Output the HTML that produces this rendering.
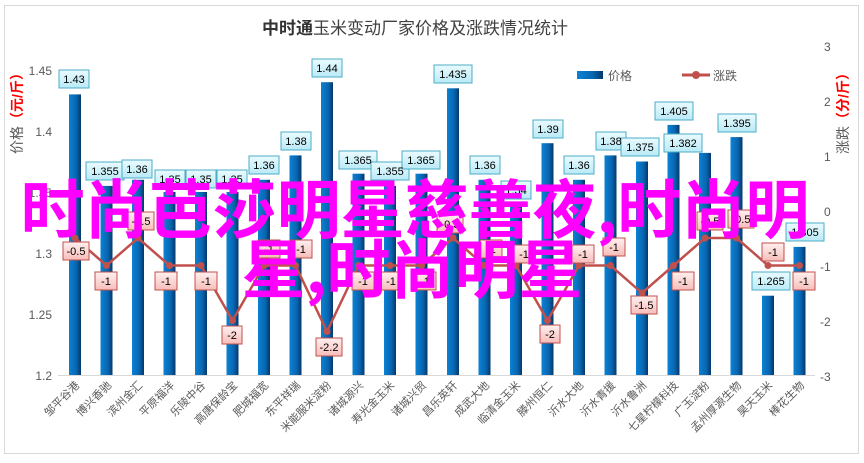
<!DOCTYPE html>
<html><head><meta charset="utf-8"><style>
body{margin:0;background:#fff}
svg text{font-family:"Liberation Sans","Noto Sans CJK SC",sans-serif}
</style></head><body>
<svg width="864" height="458" viewBox="0 0 864 458" xmlns="http://www.w3.org/2000/svg">
<defs>
<linearGradient id="bg" x1="0" x2="1" y1="0" y2="0"><stop offset="0" stop-color="#0b82d4"/><stop offset="0.6" stop-color="#0866b0"/><stop offset="1" stop-color="#05386a"/></linearGradient>
<linearGradient id="lb" x1="0" x2="0" y1="0" y2="1"><stop offset="0" stop-color="#eafbff"/><stop offset="1" stop-color="#b9eaf6"/></linearGradient>
<linearGradient id="rb" x1="0" x2="0" y1="0" y2="1"><stop offset="0" stop-color="#fff0ef"/><stop offset="1" stop-color="#f7bdb9"/></linearGradient>
</defs>
<rect x="4.5" y="5.5" width="854" height="448" fill="#fff" stroke="#d9d9d9"/>
<text x="415" y="34" font-size="17" text-anchor="middle" fill="#404040"><tspan font-weight="bold" fill="#333">中时通</tspan>玉米变动厂家价格及涨跌情况统计</text>
<g font-size="12" fill="#595959" text-anchor="end">
<text x="52" y="75">1.45</text><text x="52" y="136">1.4</text><text x="52" y="197">1.35</text><text x="52" y="258">1.3</text><text x="52" y="319">1.25</text><text x="52" y="380">1.2</text>
</g>
<g font-size="12" fill="#595959">
<text x="824" y="51">3</text><text x="824" y="106">2</text><text x="824" y="161">1</text><text x="824" y="216">0</text><text x="820" y="271">-1</text><text x="820" y="326">-2</text><text x="820" y="381">-3</text>
</g>
<text transform="translate(22,110) rotate(-90)" font-size="14" text-anchor="middle"><tspan fill="#595959">价格</tspan><tspan fill="#ff0000" font-weight="bold">（元/斤）</tspan></text>
<text transform="translate(848,110) rotate(-90)" font-size="14" text-anchor="middle"><tspan fill="#595959">涨跌</tspan><tspan fill="#ff0000" font-weight="bold">（分/斤）</tspan></text>
<line x1="58" y1="375.5" x2="815" y2="375.5" stroke="#d9d9d9"/>
<rect x="577" y="71" width="26" height="8" fill="url(#bg)"/><text x="608" y="80" font-size="12" fill="#595959">价格</text>
<line x1="682" y1="75" x2="710" y2="75" stroke="#c0504d" stroke-width="3"/><circle cx="696" cy="75" r="4" fill="#c0504d"/><text x="713" y="80" font-size="12" fill="#595959">涨跌</text>
<g fill="url(#bg)">
<rect x="69" y="94.4" width="12" height="280.6"/>
<rect x="100.5" y="185.9" width="12" height="189.1"/>
<rect x="132" y="179.8" width="12" height="195.2"/>
<rect x="163.5" y="192" width="12" height="183"/>
<rect x="195" y="192" width="12" height="183"/>
<rect x="226.5" y="192" width="12" height="183"/>
<rect x="258" y="179.8" width="12" height="195.2"/>
<rect x="289.5" y="155.4" width="12" height="219.6"/>
<rect x="321" y="82.2" width="12" height="292.8"/>
<rect x="352.5" y="173.7" width="12" height="201.3"/>
<rect x="384" y="185.9" width="12" height="189.1"/>
<rect x="415.5" y="173.7" width="12" height="201.3"/>
<rect x="447" y="88.3" width="12" height="286.7"/>
<rect x="478.5" y="179.8" width="12" height="195.2"/>
<rect x="510" y="204.2" width="12" height="170.8"/>
<rect x="541.5" y="143.2" width="12" height="231.8"/>
<rect x="573" y="179.8" width="12" height="195.2"/>
<rect x="604.5" y="155.4" width="12" height="219.6"/>
<rect x="636" y="161.5" width="12" height="213.5"/>
<rect x="667.5" y="124.9" width="12" height="250.1"/>
<rect x="699" y="152.9" width="12" height="222.1"/>
<rect x="730.5" y="137.1" width="12" height="237.9"/>
<rect x="762" y="295.7" width="12" height="79.3"/>
<rect x="793.5" y="246.9" width="12" height="128.1"/>
</g>
<g font-size="11" fill="#000" text-anchor="middle">
<g stroke="#4bacc6" fill="url(#lb)">
<rect x="59" y="70" width="30" height="18"/><rect x="86" y="162" width="38" height="18"/><rect x="122" y="160" width="30" height="18"/><rect x="155" y="170" width="30" height="18"/><rect x="186" y="170" width="30" height="18"/><rect x="217" y="170" width="30" height="18"/><rect x="249" y="156" width="30" height="18"/><rect x="281" y="132" width="30" height="18"/><rect x="312" y="59" width="30" height="18"/><rect x="339" y="151" width="38" height="18"/><rect x="371" y="162" width="38" height="18"/><rect x="402" y="151" width="38" height="18"/><rect x="434" y="65" width="38" height="18"/><rect x="470" y="156" width="30" height="18"/><rect x="501" y="181" width="30" height="18"/><rect x="533" y="120" width="30" height="18"/><rect x="564" y="156" width="30" height="18"/><rect x="596" y="132" width="30" height="18"/><rect x="621" y="138" width="38" height="18"/><rect x="655" y="102" width="38" height="18"/><rect x="664" y="134" width="38" height="18"/><rect x="718" y="114" width="38" height="18"/><rect x="752" y="272" width="38" height="18"/><rect x="786" y="223" width="38" height="18"/>
</g>
<text x="74" y="83">1.43</text><text x="105" y="175">1.355</text><text x="137" y="173">1.36</text><text x="170" y="183">1.35</text><text x="201" y="183">1.35</text><text x="232" y="183">1.35</text><text x="264" y="169">1.36</text><text x="296" y="145">1.38</text><text x="327" y="72">1.44</text><text x="358" y="164">1.365</text><text x="390" y="175">1.355</text><text x="421" y="164">1.365</text><text x="453" y="78">1.435</text><text x="485" y="169">1.36</text><text x="516" y="194">1.34</text><text x="548" y="133">1.39</text><text x="579" y="169">1.36</text><text x="611" y="145">1.38</text><text x="640" y="151">1.375</text><text x="674" y="115">1.405</text><text x="683" y="147">1.382</text><text x="737" y="127">1.395</text><text x="771" y="285">1.265</text><text x="805" y="236">1.305</text>
</g>
<polyline fill="none" stroke="#c0504d" stroke-width="2.5" points="75,238 106.5,265.5 138,238 169.5,265.5 201,265.5 232.5,320.5 264,265.5 295.5,265.5 327,331.5 358.5,265.5 390,265.5 421.5,265.5 453,238 484.5,265.5 516,265.5 547.5,320.5 579,265.5 610.5,265.5 642,293 673.5,265.5 705,238 736.5,238 768,265.5 799.5,265.5"/>
<g fill="#c0504d">
<circle cx="75" cy="238" r="3.5"/><circle cx="106.5" cy="265.5" r="3.5"/><circle cx="138" cy="238" r="3.5"/><circle cx="169.5" cy="265.5" r="3.5"/><circle cx="201" cy="265.5" r="3.5"/><circle cx="232.5" cy="320.5" r="3.5"/><circle cx="264" cy="265.5" r="3.5"/><circle cx="295.5" cy="265.5" r="3.5"/><circle cx="327" cy="331.5" r="3.5"/><circle cx="358.5" cy="265.5" r="3.5"/><circle cx="390" cy="265.5" r="3.5"/><circle cx="421.5" cy="265.5" r="3.5"/><circle cx="453" cy="238" r="3.5"/><circle cx="484.5" cy="265.5" r="3.5"/><circle cx="516" cy="265.5" r="3.5"/><circle cx="547.5" cy="320.5" r="3.5"/><circle cx="579" cy="265.5" r="3.5"/><circle cx="610.5" cy="265.5" r="3.5"/><circle cx="642" cy="293" r="3.5"/><circle cx="673.5" cy="265.5" r="3.5"/><circle cx="705" cy="238" r="3.5"/><circle cx="736.5" cy="238" r="3.5"/><circle cx="768" cy="265.5" r="3.5"/><circle cx="799.5" cy="265.5" r="3.5"/>
</g>
<g font-size="11" text-anchor="middle" fill="#000">
<g stroke="#c0504d" fill="url(#rb)">
<rect x="63" y="242" width="26" height="18"/><rect x="95" y="272" width="22" height="18"/><rect x="128" y="212" width="26" height="18"/><rect x="155" y="272" width="22" height="18"/><rect x="195" y="272" width="22" height="18"/><rect x="222" y="326" width="20" height="18"/><rect x="258" y="240" width="22" height="18"/><rect x="290" y="240" width="22" height="18"/><rect x="316" y="338" width="26" height="18"/><rect x="352" y="272" width="22" height="18"/><rect x="380" y="272" width="22" height="18"/><rect x="414" y="272" width="22" height="18"/><rect x="437" y="215" width="26" height="18"/><rect x="480" y="240" width="22" height="18"/><rect x="513" y="245" width="22" height="18"/><rect x="540" y="325" width="20" height="18"/><rect x="572" y="245" width="22" height="18"/><rect x="603" y="238" width="22" height="18"/><rect x="631" y="296" width="26" height="18"/><rect x="672" y="272" width="22" height="18"/><rect x="697" y="212" width="26" height="18"/><rect x="728" y="210" width="26" height="18"/><rect x="762" y="243" width="22" height="18"/><rect x="793" y="272" width="22" height="18"/>
</g>
<text x="76" y="255">-0.5</text><text x="106" y="285">-1</text><text x="141" y="225">-0.5</text><text x="166" y="285">-1</text><text x="206" y="285">-1</text><text x="232" y="339">-2</text><text x="269" y="253">-1</text><text x="301" y="253">-1</text><text x="329" y="351">-2.2</text><text x="363" y="285">-1</text><text x="391" y="285">-1</text><text x="425" y="285">-1</text><text x="450" y="228">-0.5</text><text x="491" y="253">-1</text><text x="524" y="258">-1</text><text x="550" y="338">-2</text><text x="583" y="258">-1</text><text x="614" y="251">-1</text><text x="644" y="309">-1.5</text><text x="683" y="285">-1</text><text x="710" y="225">-0.5</text><text x="741" y="223">-0.5</text><text x="773" y="256">-1</text><text x="804" y="285">-1</text>
</g>
<g font-size="11" fill="#595959" text-anchor="end">
<text transform="translate(80,386) rotate(-45)">邹平谷港</text>
<text transform="translate(112,386) rotate(-45)">博兴香驰</text>
<text transform="translate(143,386) rotate(-45)">滨州金汇</text>
<text transform="translate(175,386) rotate(-45)">平原福洋</text>
<text transform="translate(206,386) rotate(-45)">乐陵中谷</text>
<text transform="translate(238,386) rotate(-45)">高唐保龄宝</text>
<text transform="translate(269,386) rotate(-45)">肥城福宽</text>
<text transform="translate(301,386) rotate(-45)">东平祥瑞</text>
<text transform="translate(332,386) rotate(-45)">米能服米淀粉</text>
<text transform="translate(364,386) rotate(-45)">诸城源兴</text>
<text transform="translate(395,386) rotate(-45)">寿光金玉米</text>
<text transform="translate(427,386) rotate(-45)">诸城兴贸</text>
<text transform="translate(458,386) rotate(-45)">昌乐英轩</text>
<text transform="translate(490,386) rotate(-45)">成武大地</text>
<text transform="translate(521,386) rotate(-45)">临清金玉米</text>
<text transform="translate(553,386) rotate(-45)">滕州恒仁</text>
<text transform="translate(584,386) rotate(-45)">沂水大地</text>
<text transform="translate(616,386) rotate(-45)">沂水青援</text>
<text transform="translate(647,386) rotate(-45)">沂水鲁洲</text>
<text transform="translate(679,386) rotate(-45)">七星柠檬科技</text>
<text transform="translate(710,386) rotate(-45)">广玉淀粉</text>
<text transform="translate(742,386) rotate(-45)">孟州厚源生物</text>
<text transform="translate(773,386) rotate(-45)">昊天玉米</text>
<text transform="translate(805,386) rotate(-45)">棒花生物</text>
</g>
<g fill="#ff00ff" font-size="64" text-anchor="middle" font-weight="bold">
<text x="415" y="233" style="font-family:'Noto Sans CJK SC',sans-serif">时尚芭莎明星慈善夜,时尚明</text>
<text x="412" y="293" style="font-family:'Noto Sans CJK SC',sans-serif">星,时尚明星</text>
</g>
</svg>
</body></html>
